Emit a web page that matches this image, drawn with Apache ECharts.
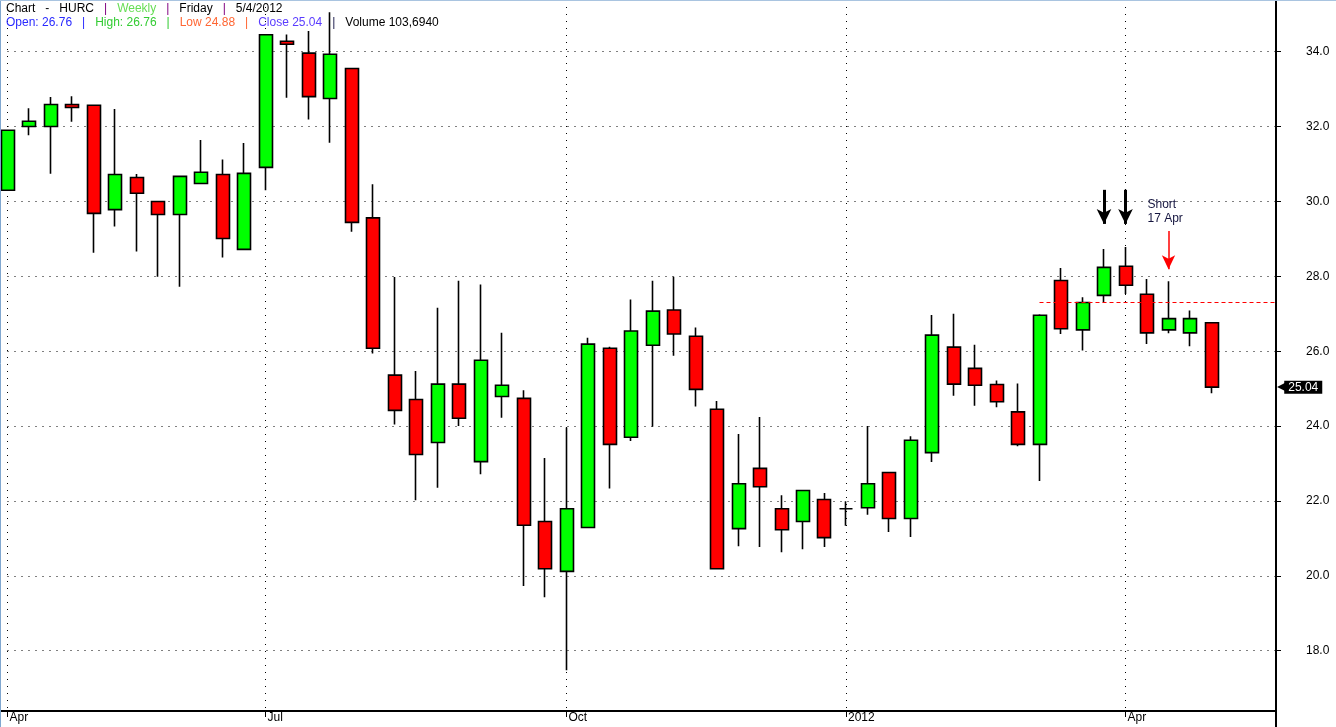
<!DOCTYPE html>
<html><head><meta charset="utf-8">
<script src="https://cdn.jsdelivr.net/npm/echarts@6/dist/echarts.min.js"></script>
<style>html,body{margin:0;padding:0;background:#fff;overflow:hidden}#c{width:1336px;height:727px}</style>
</head><body><div id="c"></div>
<script>
// Weekly candles (week ending Friday)
const dates = ['2011-04-08','2011-04-15','2011-04-22','2011-04-29','2011-05-06','2011-05-13','2011-05-20','2011-05-27',
'2011-06-03','2011-06-10','2011-06-17','2011-06-24','2011-07-01','2011-07-08','2011-07-15','2011-07-22','2011-07-29',
'2011-08-05','2011-08-12','2011-08-19','2011-08-26','2011-09-02','2011-09-09','2011-09-16','2011-09-23','2011-09-30',
'2011-10-07','2011-10-14','2011-10-21','2011-10-28','2011-11-04','2011-11-11','2011-11-18','2011-11-25','2011-12-02',
'2011-12-09','2011-12-16','2011-12-23','2011-12-30','2012-01-06','2012-01-13','2012-01-20','2012-01-27','2012-02-03',
'2012-02-10','2012-02-17','2012-02-24','2012-03-02','2012-03-09','2012-03-16','2012-03-23','2012-03-30','2012-04-06',
'2012-04-13','2012-04-20','2012-04-27','2012-05-04'];
const openP  = [30.30,32.00,32.00,32.59,32.57,29.78,30.64,30.00,29.65,30.48,30.72,28.72,30.91,34.28,33.96,32.75,33.55,
29.56,25.36,24.71,23.56,25.12,23.05,24.79,24.74,21.45,20.12,21.29,26.08,23.70,26.16,27.10,26.40,24.45,21.26,
22.87,21.79,21.45,22.04,21.79,21.82,22.76,21.53,23.29,26.11,25.54,25.11,24.38,23.51,27.89,26.57,27.49,28.27,
27.52,26.57,26.49,26.76];
const highP  = [31.90,32.49,32.79,32.81,32.57,32.47,30.73,30.00,30.67,31.64,31.12,31.56,34.45,34.46,34.55,35.05,33.55,
30.46,27.98,25.47,27.16,27.88,27.78,26.49,24.96,23.15,23.96,26.36,26.12,27.38,27.88,27.99,26.63,24.67,23.79,
24.24,22.15,22.28,22.21,21.99,24.00,22.76,23.73,26.97,27.00,26.17,25.22,25.14,26.99,28.22,27.44,28.73,28.78,
27.93,27.87,27.09,26.76];
const lowP   = [30.30,31.77,30.74,32.13,28.63,29.33,28.66,27.99,27.72,30.48,28.50,28.72,30.30,32.77,32.19,31.57,29.19,
25.94,24.04,22.02,22.35,24.00,22.71,24.22,19.73,19.43,17.48,21.29,22.33,23.60,23.98,25.88,24.52,20.19,20.79,
20.77,20.63,20.71,20.77,21.34,21.63,21.17,21.04,23.04,24.81,24.54,24.50,23.46,22.53,26.46,26.02,27.30,27.53,
26.19,26.48,26.13,24.88];
const closeP = [31.90,32.14,32.59,32.51,29.68,30.72,30.22,29.65,30.67,30.78,29.01,30.75,34.45,34.20,32.80,33.93,29.44,
26.08,24.42,23.24,25.12,24.21,25.76,25.09,21.35,20.19,21.79,26.19,23.51,26.54,27.07,26.46,24.98,20.19,22.46,
22.38,21.23,22.28,21.02,21.79,22.46,21.53,23.62,26.43,25.12,25.09,24.65,23.51,26.96,26.60,27.30,28.24,27.76,
26.49,26.87,26.87,25.04];
const padDates = ['2012-05-11','2012-05-18','2012-05-25'];

// Axis ticks
const tickDates  = ['2011-04-08','2011-07-01','2011-10-07','2012-01-06','2012-04-06'];
const tickLabels = ['Apr','Jul','Oct','2012','Apr'];
const priceTicks = [18,20,22,24,26,28,30,32,34];
const yMin = 16.39, yMax = 35.38;

// Annotations
const stopLevel = 27.30, stopFrom = '2012-03-09';
const signalDates = ['2012-03-30','2012-04-06'];
const signalTop = 30.31, signalEnd = 29.40;
const shortDate = '2012-04-20', shortTop = 29.21, shortEnd = 28.19;
const shortTextDate = '2012-04-13', shortTextLevel = 29.72;
const shortText = 'Short\n17 Apr';
const volumeText = '103,6940';

const allDates = dates.concat(padDates);
const candleData = dates.map((d, i) => [openP[i], closeP[i], lowP[i], highP[i]]);
const n = dates.length - 1;
const lastClose = closeP[n];
const idx = d => allDates.indexOf(d);
const isTick = (i, v) => tickDates.includes(v === undefined ? allDates[i] : v);

const sp = '   ';
const header =
  '{k|Chart' + sp + '-' + sp + 'HURC}{p|' + sp + '|' + sp + '}{w|Weekly}{p|' + sp + '|' + sp + '}{k|Friday}{p|' + sp + '|' + sp + '}{k|5/4/2012}\n' +
  '{o|Open: ' + openP[n].toFixed(2) + sp + '|' + sp + '}{h|High: ' + highP[n].toFixed(2) + sp + '|' + sp + '}' +
  '{l|Low ' + lowP[n].toFixed(2) + sp + '|' + sp + '}{c|Close ' + closeP[n].toFixed(2) + '}{d|' + sp + '|' + sp + '}{k|Volume ' + volumeText + '}';

const FONT = "'Liberation Sans', Arial, sans-serif";
const chart = echarts.init(document.getElementById('c'), null, {renderer: 'canvas'});
const rs = (color) => ({color: color, fontSize: 12, fontFamily: FONT, lineHeight: 14});

chart.setOption({
  animation: false,
  backgroundColor: '#fff',
  title: {
    left: 6, top: 2, padding: 0,
    text: header,
    textStyle: {fontSize: 12, fontWeight: 'normal', fontFamily: FONT, lineHeight: 14,
      rich: {k: rs('#000'), p: rs('#800080'), w: rs('#66dd55'), o: rs('#2a2aff'), h: rs('#33cc33'),
             l: rs('#ff6633'), c: rs('#5a3cff'), d: rs('#202050')}}
  },
  grid: {left: 7.5, right: 60, top: 0, bottom: 16, containLabel: false},
  xAxis: {
    type: 'category', data: allDates, boundaryGap: false,
    axisLine: {show: true, lineStyle: {color: '#000', width: 2}},
    axisTick: {show: true, interval: isTick, length: 6, lineStyle: {color: '#000', width: 1}},
    axisLabel: {interval: isTick, formatter: v => tickLabels[tickDates.indexOf(v)], align: 'left',
      padding: [0, 0, 0, 2], margin: 1, fontSize: 12, color: '#000',
      fontFamily: "'Liberation Sans Narrow', 'Liberation Sans', Arial, sans-serif"},
    splitLine: {show: true, interval: isTick, lineStyle: {color: '#000', width: 1, type: [1, 6]}}
  },
  yAxis: {
    type: 'value', position: 'right', min: yMin, max: yMax, scale: true,
    axisLine: {show: true, lineStyle: {color: '#000', width: 2}},
    axisTick: {show: true, length: 5, customValues: priceTicks, lineStyle: {color: '#000'}},
    axisLabel: {customValues: priceTicks, formatter: v => v.toFixed(1), color: '#000', fontSize: 12,
      fontFamily: FONT, margin: 30, align: 'left'},
    splitLine: {show: true, lineStyle: {color: '#000', width: 1, type: [1, 6]}}
  },
  series: [{
    type: 'candlestick',
    data: candleData,
    barWidth: 13.5,
    clip: false,
    itemStyle: {color: '#00ff00', color0: '#ff0000', borderColor: '#000', borderColor0: '#000',
      borderColorDoji: '#000', borderWidth: 1.6},
    emphasis: {disabled: true},
    markLine: {
      silent: true, animation: false,
      emphasis: {disabled: true},
      data: [
        [{coord: [idx(stopFrom), stopLevel], symbol: 'none', label: {show: false}, lineStyle: {color: '#ff0000', width: 1, type: [4, 3]}},
         {coord: [allDates.length - 1, stopLevel], symbol: 'none'}],
        [{coord: [idx(signalDates[0]), signalTop], symbol: 'none', label: {show: false}, lineStyle: {color: '#000', width: 3, type: 'solid'}},
         {coord: [idx(signalDates[0]), signalEnd], symbol: 'arrow', symbolSize: [11, 15]}],
        [{coord: [idx(signalDates[1]), signalTop], symbol: 'none', label: {show: false}, lineStyle: {color: '#000', width: 3, type: 'solid'}},
         {coord: [idx(signalDates[1]), signalEnd], symbol: 'arrow', symbolSize: [11, 15]}],
        [{coord: [idx(shortDate), shortTop], symbol: 'none', label: {show: false}, lineStyle: {color: '#ff0000', width: 1.5, type: 'solid'}},
         {coord: [idx(shortDate), shortEnd], symbol: 'arrow', symbolSize: [10, 14]}],
        {yAxis: lastClose, symbol: 'none', lineStyle: {color: 'rgba(0,0,0,0)', width: 0},
         label: {show: true, position: 'end', distance: 1, formatter: '{t|◀}{b|' + lastClose.toFixed(2) + '}',
           rich: {t: {color: '#000', fontSize: 12, fontFamily: 'DejaVu Sans', padding: [0, -2, 0, 0]},
                  b: {color: '#fff', backgroundColor: '#000', fontSize: 12, fontFamily: FONT, padding: [1, 4, 0, 4], lineHeight: 12}}}}
      ]
    },
    markPoint: {
      silent: true, animation: false,
      data: [{coord: [idx(shortTextDate), shortTextLevel], symbol: 'circle', symbolSize: 1,
        itemStyle: {color: 'rgba(0,0,0,0)'},
        label: {show: true, position: 'right', distance: 0, formatter: shortText, color: '#15153f',
          fontSize: 12, fontFamily: FONT, lineHeight: 14, align: 'left'}}]
    }
  }],
  graphic: [
    {type: 'line', shape: {x1: 0, y1: 711, x2: 1276, y2: 711}, style: {stroke: '#000', lineWidth: 2}, z: 100},
    {type: 'line', shape: {x1: 1276, y1: 700, x2: 1276, y2: 727}, style: {stroke: '#000', lineWidth: 2}, z: 100},
    {type: 'line', shape: {x1: 0.5, y1: 0, x2: 0.5, y2: 727}, style: {stroke: '#7fa6cf', lineWidth: 1}, z: 100},
    {type: 'line', shape: {x1: 0, y1: 0.5, x2: 1336, y2: 0.5}, style: {stroke: '#a9c4e0', lineWidth: 1}, z: 100}
  ]
});
</script>
</body></html>
